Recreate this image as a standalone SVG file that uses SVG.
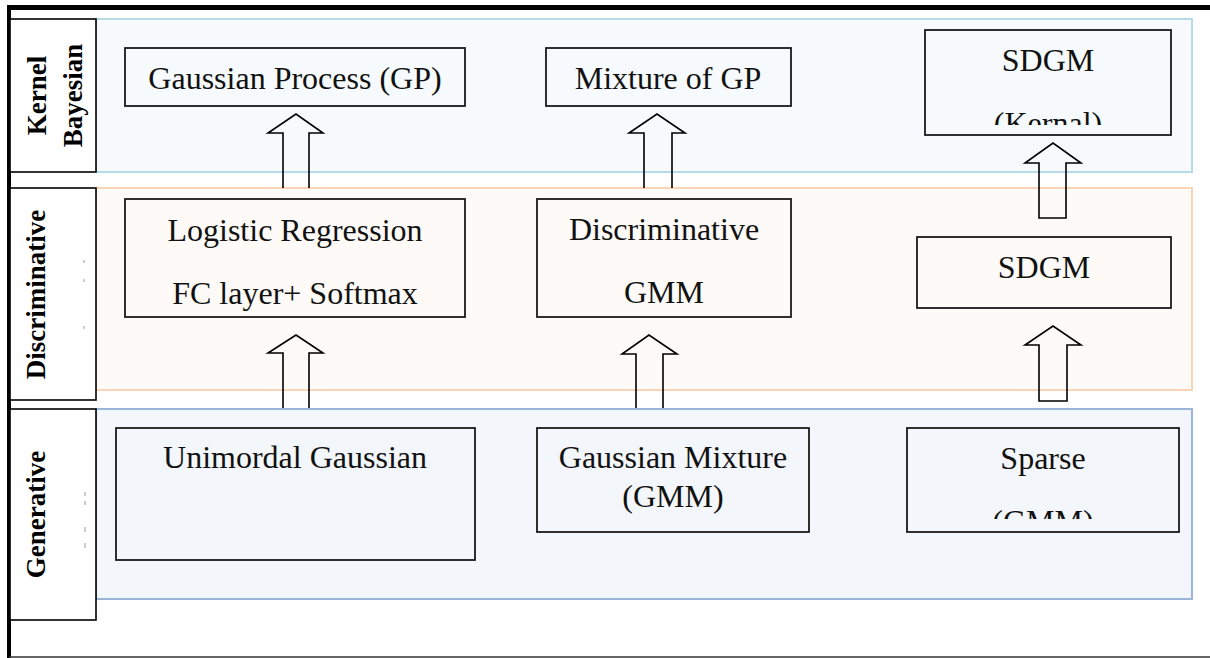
<svg xmlns="http://www.w3.org/2000/svg" width="1210" height="658" viewBox="0 0 1210 658">
<style>
  .band-k { fill:#f6fafc; stroke:#b6dbe6; stroke-width:2; }
  .band-d { fill:#fdfaf8; stroke:#f9d4b7; stroke-width:2; }
  .band-g { fill:#f3f6fb; stroke:#99b5d8; stroke-width:2; }
  .lab { fill:#ffffff; stroke:#000; stroke-width:1.6; }
  .labt { font-family:"Liberation Serif","Times New Roman","DejaVu Serif",serif; font-weight:bold; font-size:27px; fill:#000; text-anchor:middle; }
  .box { fill:none; stroke:#1a1a1a; stroke-width:1.8; }
  .t { font-family:"Liberation Serif","Times New Roman","DejaVu Serif",serif; font-size:32px; fill:#111; text-anchor:middle; }
  .arr { fill:none; stroke:#000; stroke-width:1.6; stroke-linejoin:miter; }
  .tick { stroke:#9a9a9a; stroke-width:1; }
</style>
<defs>
  <clipPath id="clipK"><rect x="925" y="30" width="246" height="95"/></clipPath>
  <clipPath id="clipS"><rect x="907" y="428" width="272" height="91"/></clipPath>
</defs>
<rect x="0" y="0" width="1210" height="658" fill="#ffffff"/>

<!-- bands -->
<g id="band-kernel"><rect class="band-k" x="96" y="19" width="1096" height="153"/></g>
<g id="band-discriminative"><rect class="band-d" x="96" y="188" width="1096" height="202"/></g>
<g id="band-generative"><rect class="band-g" x="96" y="409" width="1096" height="190"/></g>

<!-- frame -->
<g id="frame">
  <line x1="7" y1="7.5" x2="1210" y2="7.5" stroke="#000" stroke-width="5"/>
  <line x1="9" y1="5" x2="9" y2="658" stroke="#000" stroke-width="4"/>
  <line x1="9" y1="657" x2="1210" y2="657" stroke="#333" stroke-width="1.5"/>
</g>

<!-- left labels -->
<g id="label-kernel">
  <rect class="lab" x="10" y="19" width="86" height="153"/>
  <text class="labt" transform="translate(46,95.5) rotate(-90)">Kernel</text>
  <text class="labt" transform="translate(82,95.5) rotate(-90)">Bayesian</text>
</g>
<g id="label-discriminative">
  <rect class="lab" x="10" y="188" width="86" height="212"/>
  <text class="labt" transform="translate(45,294.5) rotate(-90)">Discriminative</text>
  <line class="tick" x1="84" y1="260" x2="84" y2="263"/>
  <line class="tick" x1="84" y1="279" x2="84" y2="282"/>
  <line class="tick" x1="84" y1="326" x2="84" y2="329"/>
</g>
<g id="label-generative">
  <rect class="lab" x="10" y="409" width="86" height="211"/>
  <text class="labt" transform="translate(45,514.5) rotate(-90)">Generative</text>
  <line class="tick" x1="85" y1="492" x2="85" y2="496"/>
  <line class="tick" x1="85" y1="501" x2="85" y2="505"/>
  <line class="tick" x1="85" y1="527" x2="85" y2="532"/>
  <line class="tick" x1="85" y1="543" x2="85" y2="548"/>
</g>

<!-- nodes -->
<g id="node-gp">
  <rect class="box" x="125" y="48" width="340" height="58"/>
  <text class="t" x="295" y="89">Gaussian Process (GP)</text>
</g>
<g id="node-mixgp">
  <rect class="box" x="546" y="48" width="245" height="58"/>
  <text class="t" x="668" y="89">Mixture of GP</text>
</g>
<g id="node-sdgm-kernel">
  <rect class="box" x="925" y="30" width="246" height="105"/>
  <text class="t" x="1048" y="71">SDGM</text>
  <text class="t" x="1048" y="134" clip-path="url(#clipK)">(Kernal)</text>
</g>
<g id="node-logreg">
  <rect class="box" x="125" y="199" width="340" height="118"/>
  <text class="t" x="295" y="241">Logistic Regression</text>
  <text class="t" x="295" y="304">FC layer+ Softmax</text>
</g>
<g id="node-dgmm">
  <rect class="box" x="537" y="199" width="254" height="118"/>
  <text class="t" x="664" y="240">Discriminative</text>
  <text class="t" x="664" y="303">GMM</text>
</g>
<g id="node-sdgm">
  <rect class="box" x="917" y="237" width="254" height="71"/>
  <text class="t" x="1044" y="278">SDGM</text>
</g>
<g id="node-unimodal">
  <rect class="box" x="116" y="428" width="359" height="132"/>
  <text class="t" x="295" y="468">Unimordal Gaussian</text>
</g>
<g id="node-gmm">
  <rect class="box" x="537" y="428" width="272" height="104"/>
  <text class="t" x="673" y="468">Gaussian Mixture</text>
  <text class="t" x="673" y="507">(GMM)</text>
</g>
<g id="node-sparse">
  <rect class="box" x="907" y="428" width="272" height="104"/>
  <text class="t" x="1043" y="469">Sparse</text>
  <text class="t" x="1043" y="532" clip-path="url(#clipS)">(GMM)</text>
</g>

<!-- connectors -->
<g id="connectors">
  <path class="arr" d="M283,188 V133 H268 L296,114 L323,133 H309 V188"/>
  <path class="arr" d="M644,188 V133 H629 L657,114 L685,133 H672 V188"/>
  <path class="arr" d="M1039,218 V163 H1025 L1053,143 L1081,163 H1066 V218 Z"/>
  <path class="arr" d="M283,408 V353 H268 L296,335 L323,353 H309 V408"/>
  <path class="arr" d="M636,408 V354 H622 L649,335 L677,354 H663 V408"/>
  <path class="arr" d="M1039,401 V345 H1025 L1053,326 L1081,345 H1067 V401 Z"/>
</g>
</svg>
